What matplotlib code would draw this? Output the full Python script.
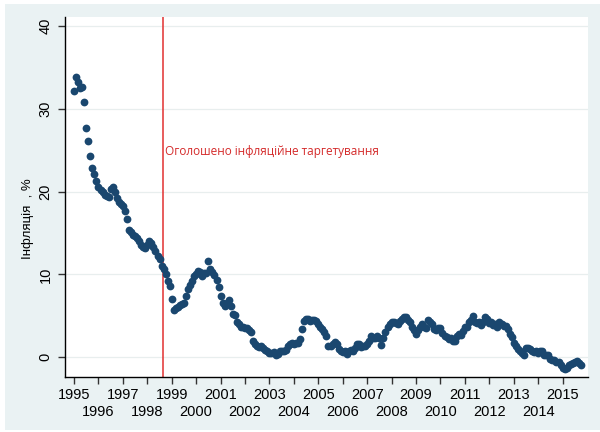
import matplotlib.pyplot as plt
from matplotlib.patches import Rectangle
import numpy as np

# Monthly y/y inflation (%), Jan 1995 .. Oct 2015
infl_1995 = [32.2, 33.8, 33.3, 32.5, 32.6, 30.8, 27.7, 26.1, 24.3, 22.9, 22.1, 21.3]
infl_1996 = [20.5, 20.2, 19.9, 19.6, 19.5, 19.4, 20.3, 20.6, 20.0, 19.2, 18.8, 18.5]
infl_1997 = [18.3, 17.7, 16.7, 15.4, 15.1, 14.8, 14.6, 14.4, 14.0, 13.5, 13.3, 13.2]
infl_1998 = [13.6, 14.0, 13.8, 13.3, 12.8, 12.2, 11.8, 11.0, 10.6, 10.0, 9.2, 8.6]
infl_1999 = [7.0, 5.7, 5.9, 6.1, 6.3, 6.4, 6.5, 7.4, 8.2, 8.7, 9.2, 9.8]
infl_2000 = [10.1, 10.4, 10.3, 9.8, 10.2, 10.2, 11.6, 10.7, 10.3, 9.9, 9.3, 8.5]
infl_2001 = [7.4, 6.6, 6.2, 6.6, 6.9, 6.2, 5.2, 5.1, 4.3, 4.0, 3.6, 3.6]
infl_2002 = [3.5, 3.5, 3.3, 3.0, 1.9, 1.6, 1.3, 1.2, 1.3, 1.1, 0.9, 0.8]
infl_2003 = [0.5, 0.5, 0.6, 0.3, 0.4, 0.8, 0.8, 0.7, 0.9, 1.3, 1.6, 1.7]
infl_2004 = [1.6, 1.7, 1.7, 2.2, 3.4, 4.4, 4.6, 4.6, 4.4, 4.5, 4.5, 4.4]
infl_2005 = [4.0, 3.6, 3.4, 3.0, 2.5, 1.4, 1.3, 1.6, 1.8, 1.6, 1.0, 0.7]
infl_2006 = [0.6, 0.7, 0.4, 0.7, 0.9, 0.8, 1.1, 1.6, 1.6, 1.2, 1.4, 1.4]
infl_2007 = [1.6, 1.9, 2.5, 2.3, 2.3, 2.6, 2.3, 1.5, 2.3, 3.0, 3.6, 4.0]
infl_2008 = [4.3, 4.2, 4.1, 4.0, 4.4, 4.6, 4.8, 4.8, 4.5, 4.2, 3.7, 3.3]
infl_2009 = [2.8, 3.3, 3.6, 4.0, 3.6, 3.5, 4.5, 4.3, 4.0, 3.4, 3.3, 3.5]
infl_2010 = [3.5, 2.9, 2.6, 2.4, 2.2, 2.3, 2.0, 2.0, 2.5, 2.8, 2.7, 3.1]
infl_2011 = [3.6, 3.6, 4.3, 4.5, 5.0, 4.2, 4.1, 4.3, 3.9, 4.3, 4.8, 4.6]
infl_2012 = [4.1, 4.3, 3.9, 4.0, 3.6, 4.3, 4.0, 3.8, 3.8, 3.4, 2.8, 2.4]
infl_2013 = [1.7, 1.3, 1.0, 0.8, 0.5, 0.2, 1.1, 1.1, 1.0, 0.8, 0.6, 0.7]
infl_2014 = [0.5, 0.7, 0.7, 0.3, 0.2, 0.3, -0.2, -0.3, -0.3, -0.6, -0.6, -1.0]
infl_2015 = [-1.3, -1.4, -1.3, -1.0, -0.8, -0.7, -0.6, -0.5, -0.7, -0.9]

years_odd = list(range(1995, 2016, 2))
years_even = list(range(1996, 2015, 2))
target_announced = 1998.64
note = 'Оголошено інфляційне таргетування'

inflation = (infl_1995 + infl_1996 + infl_1997 + infl_1998 + infl_1999 + infl_2000
             + infl_2001 + infl_2002 + infl_2003 + infl_2004 + infl_2005 + infl_2006
             + infl_2007 + infl_2008 + infl_2009 + infl_2010 + infl_2011 + infl_2012
             + infl_2013 + infl_2014 + infl_2015)
t = 1995 + np.arange(len(inflation)) / 12.0

plt.rcParams['font.family'] = ['Liberation Sans', 'DejaVu Sans']

fig = plt.figure(figsize=(6, 4.32), dpi=100, facecolor='white')
fig.patches.append(Rectangle((5/600, 2/432), 595/600, 426/432, transform=fig.transFigure,
                             facecolor='#eaf2f3', edgecolor='none', zorder=-10))
ax = fig.add_axes([65/600, 1 - 377/432, 523/600, 360/432])
ax.set_facecolor('white')

ax.plot(t, inflation, 'o', color='#1a476f', ms=5.6, mec='none', zorder=3)
ax.axvline(target_announced, color='#e23030', lw=1.1, zorder=2)
ax.text(target_announced + 0.08, 24.8, note, color='#d42a2a', fontsize=8.5,
        va='center', ha='left', family=['Open Sans', 'DejaVu Sans'])

ax.set_xlim(1994.63, 2016.04)
ax.set_ylim(-2.4, 41.1)
ax.set_yticks([0, 10, 20, 30, 40])
ax.set_yticklabels(['0', '10', '20', '30', '40'], rotation=90, va='center')
ax.set_xticks(years_odd)
ax.set_xticklabels([str(y) for y in years_odd])
ax.set_xticks(years_even, minor=True)
ax.set_xticklabels([str(y) for y in years_even], minor=True)
ax.tick_params(axis='both', which='both', labelsize=10.5, length=5, width=1, color='#333333')
ax.tick_params(axis='x', which='major', pad=3)
ax.tick_params(axis='x', which='minor', pad=15)
ax.tick_params(axis='y', pad=4)

ax.grid(axis='y', color='#e8eeee', lw=0.9, zorder=1)
ax.set_axisbelow(True)
for side in ['top', 'right']:
    ax.spines[side].set_visible(False)
for side in ['left', 'bottom']:
    ax.spines[side].set_linewidth(1.0)
    ax.spines[side].set_color('black')

ax.set_ylabel('Інфляція  , %', fontsize=9.5)
ax.yaxis.set_label_coords(-0.06, 0.44)

fig.savefig('out.png', dpi=100, facecolor=fig.get_facecolor())
